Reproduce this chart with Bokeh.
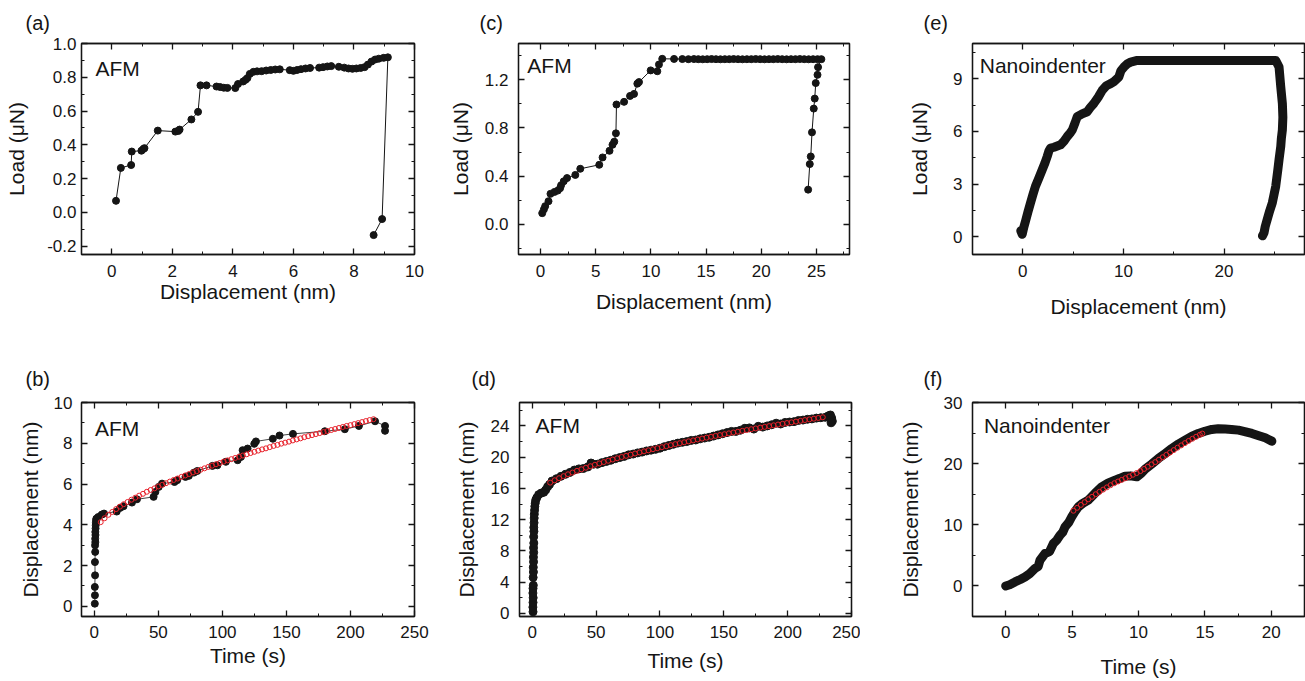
from bokeh.plotting import figure
from bokeh.models import (Range1d, SingleIntervalTicker, LinearAxis, Label, PrintfTickFormatter,
                          CustomJSTickFormatter)
from bokeh.layouts import row, column
from bokeh.embed import file_html
from bokeh.resources import INLINE

FONT = "Liberation Sans"
INK = "#151515"
RED = "#e8202a"

# ---------------- (a) AFM load vs displacement ----------------
a_disp = [0.14, 0.30, 0.64, 0.66, 0.98, 1.04, 1.08, 1.52, 2.10, 2.20, 2.24, 2.63, 2.85, 2.93, 3.13,
          3.46, 3.58, 3.70, 3.82, 4.08, 4.17, 4.34, 4.42, 4.48, 4.56, 4.68, 4.80, 4.95, 5.10, 5.25,
          5.40, 5.55, 5.88, 6.00, 6.12, 6.25, 6.40, 6.55, 6.85, 6.98, 7.12, 7.25, 7.50, 7.68, 7.82,
          7.95, 8.08, 8.22, 8.35, 8.46, 8.58, 8.70, 8.82, 8.98, 9.12, 8.93, 8.65]
a_load = [0.068, 0.263, 0.280, 0.360, 0.365, 0.375, 0.380, 0.484, 0.478, 0.482, 0.490, 0.550, 0.595,
          0.752, 0.752, 0.745, 0.742, 0.738, 0.737, 0.736, 0.760, 0.775, 0.785, 0.795, 0.820, 0.832,
          0.835, 0.836, 0.840, 0.843, 0.846, 0.847, 0.842, 0.838, 0.843, 0.848, 0.852, 0.855, 0.857,
          0.860, 0.864, 0.866, 0.862, 0.857, 0.852, 0.850, 0.852, 0.855, 0.860, 0.875, 0.893, 0.905,
          0.910, 0.915, 0.918, -0.040, -0.135]

# ---------------- (c) AFM load vs displacement ----------------
c_disp = [0.15, 0.30, 0.42, 0.72, 0.90, 1.26, 1.56, 1.77, 1.86, 2.10, 2.40, 3.15, 3.60, 5.32, 5.62,
          6.25, 6.52, 6.68, 6.83, 6.88, 7.57, 8.11, 8.47, 8.77, 8.92, 9.98, 10.58, 10.73, 11.03,
          12.10, 12.85, 13.40, 13.90, 14.30, 14.70, 15.10, 15.50, 15.90, 16.30, 16.70, 17.10, 17.50,
          17.90, 18.30, 18.70, 19.10, 19.50, 19.90, 20.30, 20.70, 21.10, 21.50, 21.90, 22.30, 22.70,
          23.10, 23.50, 23.90, 24.30, 24.70, 25.10, 25.45,
          25.15, 25.10, 24.94, 24.85, 24.76, 24.60, 24.49, 24.40, 24.25]
c_load = [0.093, 0.124, 0.151, 0.192, 0.253, 0.269, 0.280, 0.300, 0.324, 0.357, 0.384, 0.410, 0.461,
          0.494, 0.555, 0.610, 0.660, 0.686, 0.755, 0.994, 1.016, 1.065, 1.082, 1.167, 1.180, 1.277,
          1.270, 1.326, 1.373,
          1.372, 1.371, 1.370, 1.371, 1.370, 1.369, 1.370, 1.371, 1.370, 1.369, 1.370, 1.370, 1.371,
          1.370, 1.369, 1.370, 1.370, 1.371, 1.370, 1.369, 1.370, 1.370, 1.371, 1.370, 1.369, 1.370,
          1.370, 1.371, 1.370, 1.369, 1.370, 1.370, 1.370,
          1.304, 1.240, 1.172, 1.043, 0.960, 0.763, 0.563, 0.500, 0.288]

# ---------------- (e) Nanoindenter load vs displacement ----------------
e_disp = [-0.20, -0.06, 0.10, 0.27, 0.50, 0.77, 1.00, 1.26, 1.60, 1.93, 2.20, 2.43, 2.60, 2.76, 3.10,
          3.75, 4.10, 4.42, 4.70, 4.92, 5.20, 5.41, 5.90, 6.41, 6.70, 7.06, 7.50, 7.90, 8.30, 8.73,
          9.10, 9.55, 9.75, 10.05, 10.40, 10.72, 11.38, 13.0, 15.0, 17.0, 19.0, 21.0, 23.0, 24.5,
          25.14, 25.47, 25.64, 25.80, 25.85, 25.80, 25.70, 25.64, 25.47, 25.35, 25.14, 24.97, 24.80,
          24.55, 24.30, 24.10, 23.98, 23.82]
e_load = [0.35, 0.15, 0.55, 0.90, 1.40, 1.94, 2.40, 2.88, 3.35, 3.82, 4.20, 4.58, 4.90, 5.05, 5.10,
          5.24, 5.45, 5.71, 5.90, 6.08, 6.50, 6.84, 7.00, 7.12, 7.35, 7.59, 7.95, 8.34, 8.60, 8.72,
          8.85, 9.10, 9.45, 9.66, 9.85, 9.94, 10.04, 10.03, 10.04, 10.03, 10.04, 10.03, 10.04, 10.04,
          10.04, 9.66, 8.53, 7.59, 6.80, 6.08, 5.60, 5.14, 4.40, 3.82, 2.88, 2.40, 1.94, 1.50, 1.00,
          0.60, 0.24, 0.06]

# ---------------- (b) AFM displacement vs time ----------------
b_time = [0.4, 0.5, 0.4, 0.6, 0.5, 0.7, 0.6, 0.8, 0.7, 0.9, 0.8, 1.0, 1.1, 1.2, 1.4, 1.6, 3.0, 5.8,
          7.6, 17.5, 20.2, 22.8, 29.4, 33.3, 46.3, 47.7, 50.3, 52.9, 62.6, 64.7, 71.2, 73.8, 77.8,
          80.4, 92.2, 96.1, 102.7, 111.9, 114.5, 115.8, 119.7, 124.9, 126.2, 139.4, 144.6, 155.1,
          180.0, 195.6, 206.6, 219.2, 227.0, 227.0]
b_disp = [0.13, 0.54, 0.95, 1.52, 2.17, 2.67, 2.99, 3.15, 3.32, 3.50, 3.65, 3.82, 3.98, 4.10, 4.22,
          4.30, 4.38, 4.50, 4.55, 4.65, 4.83, 4.91, 5.09, 5.25, 5.37, 5.61, 5.86, 6.02, 6.10, 6.19,
          6.35, 6.40, 6.56, 6.64, 6.89, 6.92, 7.09, 7.17, 7.33, 7.66, 7.74, 7.97, 8.09, 8.22, 8.38,
          8.46, 8.59, 8.69, 8.85, 9.08, 8.85, 8.61]
b_fit_time = [5, 8, 11, 14, 17, 20, 23, 26, 29, 32, 35, 38, 41, 44, 47, 50, 53, 56, 59, 62, 65, 68,
              71, 74, 77, 80, 83, 86, 89, 92, 95, 98, 101, 104, 107, 110, 113, 116, 119, 122, 125,
              128, 131, 134, 137, 140, 143, 146, 149, 152, 155, 158, 161, 164, 167, 170, 173, 176,
              179, 182, 185, 188, 191, 194, 197, 200, 203, 206, 209, 212, 215, 218]
b_fit_disp = [4.13, 4.32, 4.49, 4.63, 4.77, 4.89, 5.01, 5.12, 5.23, 5.33, 5.43, 5.52, 5.62, 5.71,
              5.79, 5.88, 5.96, 6.04, 6.12, 6.20, 6.27, 6.35, 6.42, 6.49, 6.57, 6.63, 6.70, 6.77,
              6.84, 6.90, 6.97, 7.03, 7.10, 7.16, 7.22, 7.28, 7.34, 7.40, 7.46, 7.52, 7.58, 7.64,
              7.70, 7.75, 7.81, 7.87, 7.92, 7.98, 8.03, 8.08, 8.14, 8.19, 8.24, 8.30, 8.35, 8.40,
              8.45, 8.50, 8.55, 8.60, 8.65, 8.70, 8.75, 8.80, 8.85, 8.89, 8.94, 8.99, 9.04, 9.09,
              9.14, 9.18]

# ---------------- (d) AFM displacement vs time ----------------
d_time = [0.6, 0.5, 0.6, 0.7, 0.5, 0.6, 0.8, 0.7, 0.9, 0.8, 1.0, 0.9, 1.1, 1.0, 1.2, 1.1, 1.3, 1.2,
          1.4, 1.5, 1.6, 1.8, 2.0, 2.3, 2.7, 3.5, 5.0, 7.0, 9.0, 10.5, 12.0, 13.5,
          15.5, 19.0, 22.5, 26.0, 29.5, 33.0, 36.5, 40.0, 43.5, 46.0, 48.0, 51.0, 54.5, 58.0, 61.5,
          65.0, 68.5, 72.0, 75.5, 79.0, 82.5, 86.0, 89.5, 93.0, 96.5, 100.0, 103.5, 107.0, 110.5,
          114.0, 117.5, 121.0, 124.5, 128.0, 131.5, 135.0, 138.5, 142.0, 145.5, 149.0, 152.5, 156.0,
          159.5, 163.0, 166.5, 170.0, 173.5, 177.0, 180.5, 184.0, 187.5, 191.0, 194.5, 198.0, 201.5,
          205.0, 208.5, 212.0, 215.5, 219.0, 222.5, 226.0, 229.5, 232.0, 233.5, 234.5, 235.0, 234.0]
d_disp = [0.2, 0.8, 1.4, 2.0, 2.6, 3.2, 3.6, 4.6, 5.3, 5.9, 6.6, 7.2, 7.8, 8.4, 9.0, 9.8, 10.5, 11.0,
          11.6, 12.2, 12.7, 13.2, 13.7, 14.1, 14.5, 14.8, 15.2, 15.4, 15.5, 15.8, 16.2, 16.5,
          16.95, 17.25, 17.55, 17.80, 18.05, 18.35, 18.50, 18.55, 18.75, 19.25, 19.10, 19.10, 19.30,
          19.45, 19.60, 19.80, 19.95, 20.10, 20.30, 20.40, 20.55, 20.65, 20.80, 20.90, 21.00, 21.15,
          21.35, 21.50, 21.65, 21.80, 21.90, 22.00, 22.15, 22.20, 22.35, 22.45, 22.55, 22.70, 22.85,
          23.00, 23.15, 23.30, 23.30, 23.45, 23.70, 23.75, 23.60, 23.95, 23.85, 24.00, 24.15, 24.35,
          24.25, 24.45, 24.50, 24.55, 24.70, 24.75, 24.85, 24.90, 25.00, 25.05, 25.10, 25.30, 25.40,
          25.00, 24.60, 24.40]
d_fit_time = [14.0, 17.5, 21.0, 24.5, 28.0, 31.5, 35.0, 38.5, 42.0, 45.5, 49.0, 52.5, 56.0, 59.5,
              63.0, 66.5, 70.0, 73.5, 77.0, 80.5, 84.0, 87.5, 91.0, 94.5, 98.0, 101.5, 105.0, 108.5,
              112.0, 115.5, 119.0, 122.5, 126.0, 129.5, 133.0, 136.5, 140.0, 143.5, 147.0, 150.5,
              154.0, 157.5, 161.0, 164.5, 168.0, 171.5, 175.0, 178.5, 182.0, 185.5, 189.0, 192.5,
              196.0, 199.5, 203.0, 206.5, 210.0, 213.5, 217.0, 220.5, 224.0, 227.5]
d_fit_disp = [16.74, 17.04, 17.31, 17.57, 17.81, 18.03, 18.25, 18.45, 18.65, 18.84, 19.02, 19.20,
              19.37, 19.54, 19.70, 19.86, 20.02, 20.17, 20.32, 20.47, 20.61, 20.75, 20.88, 21.02,
              21.15, 21.28, 21.41, 21.54, 21.67, 21.79, 21.91, 22.03, 22.15, 22.27, 22.38, 22.50,
              22.61, 22.72, 22.83, 22.94, 23.05, 23.16, 23.26, 23.37, 23.47, 23.58, 23.68, 23.78,
              23.88, 23.98, 24.08, 24.18, 24.27, 24.37, 24.46, 24.56, 24.65, 24.75, 24.84, 24.93,
              25.02, 25.11]

# ---------------- (f) Nanoindenter displacement vs time ----------------
f_time = [0.0, 0.3, 0.7, 1.1, 1.45, 1.8, 2.2, 2.45, 2.58, 2.96, 3.3, 3.59, 3.85, 4.09, 4.3, 4.47,
          4.75, 4.97, 5.2, 5.47, 5.8, 6.22, 6.7, 7.23, 7.7, 8.24, 8.6, 8.99, 9.4, 9.87, 10.2, 10.5,
          11.0, 11.5, 12.0, 12.51, 13.0, 13.51, 14.0, 14.51, 15.0, 15.52, 16.0, 16.53, 17.0, 17.53,
          18.0, 18.54, 19.0, 19.54, 20.04]
f_disp = [0.0, 0.2, 0.65, 1.05, 1.47, 2.0, 2.85, 3.2, 4.2, 5.3, 5.6, 6.94, 7.5, 8.3, 8.8, 9.66,
          10.4, 11.29, 12.1, 12.93, 13.5, 14.03, 15.1, 16.2, 16.8, 17.3, 17.6, 17.95, 18.0, 17.84,
          18.4, 19.1, 19.95, 20.85, 21.65, 22.49, 23.2, 23.85, 24.45, 24.94, 25.3, 25.6, 25.7,
          25.65, 25.6, 25.48, 25.25, 24.94, 24.6, 24.22, 23.68]
f_fit_time = [5.10, 5.38, 5.66, 5.94, 6.22, 6.50, 6.78, 7.06, 7.34, 7.62, 7.90, 8.18, 8.46, 8.74,
              9.02, 9.30, 9.58, 9.86, 10.14, 10.42, 10.70, 10.98, 11.26, 11.54, 11.82, 12.10,
              12.38, 12.66, 12.94, 13.22, 13.50, 13.78, 14.06, 14.34, 14.62, 14.80]
f_fit_disp = [12.30, 12.78, 13.25, 13.70, 14.17, 14.58, 15.00, 15.39, 15.76, 16.12, 16.48, 16.80,
              17.08, 17.35, 17.62, 17.90, 18.18, 18.46, 18.78, 19.13, 19.50, 19.88, 20.25, 20.65,
              21.05, 21.44, 21.83, 22.22, 22.61, 22.99, 23.36, 23.72, 24.07, 24.40, 24.72, 24.92]


def style_axis(ax, ticker, fmt, label=None, lab_size="21px", lab_standoff=0, tick_standoff=0,
               tick_size="17px", show=True):
    ax.ticker = ticker
    ax.axis_line_color = INK
    ax.axis_line_width = 1.3
    ax.major_tick_line_color = INK
    ax.minor_tick_line_color = INK
    ax.major_tick_line_width = 1.3
    ax.minor_tick_line_width = 1.0
    ax.major_tick_in = 6
    ax.major_tick_out = 0
    ax.minor_tick_in = 3
    ax.minor_tick_out = 0
    if show:
        ax.formatter = PrintfTickFormatter(format=fmt)
        ax.axis_label = label
        ax.axis_label_text_font = FONT
        ax.axis_label_text_font_size = lab_size
        ax.axis_label_text_font_style = "normal"
        ax.axis_label_text_color = INK
        ax.axis_label_standoff = lab_standoff
        ax.major_label_text_font = FONT
        ax.major_label_text_font_size = tick_size
        ax.major_label_text_color = INK
        ax.major_label_standoff = tick_standoff
    else:
        ax.formatter = CustomJSTickFormatter(code="return ''")
        ax.major_label_standoff = 0


def panel(w, h, bl, br, bt, bb, xr, yr, xint, yint, xfmt, yfmt, xlabel, ylabel,
          xlab_so, ylab_so, xtick_so, ytick_so, letter, letter_off, letter_so, tag, tag_xy):
    p = figure(width=w, height=h, x_range=Range1d(*xr), y_range=Range1d(*yr),
               output_backend="svg", toolbar_location=None,
               min_border_left=bl, min_border_right=br, min_border_top=bt, min_border_bottom=bb)
    p.xgrid.visible = False
    p.ygrid.visible = False
    p.outline_line_color = INK
    p.outline_line_width = 1.3
    p.outline_line_alpha = 1.0
    p.background_fill_color = "white"
    p.border_fill_color = "white"
    p.title.text = letter
    p.title.text_font = FONT
    p.title.text_font_size = "20px"
    p.title.text_font_style = "normal"
    p.title.text_color = INK
    p.title.align = "left"
    p.title.offset = letter_off
    p.title.standoff = letter_so
    style_axis(p.xaxis[0], SingleIntervalTicker(interval=xint, num_minor_ticks=2), xfmt, xlabel,
               "21px", xlab_so, xtick_so, "17px")
    style_axis(p.yaxis[0], SingleIntervalTicker(interval=yint, num_minor_ticks=2), yfmt, ylabel,
               "21px", ylab_so, ytick_so, "17px")
    top = LinearAxis()
    style_axis(top, SingleIntervalTicker(interval=xint, num_minor_ticks=2), xfmt, show=False)
    p.add_layout(top, "above")
    right = LinearAxis()
    style_axis(right, SingleIntervalTicker(interval=yint, num_minor_ticks=2), yfmt, show=False)
    p.add_layout(right, "right")
    p.add_layout(Label(x=tag_xy[0], y=tag_xy[1], x_units="data", y_units="data",
                       text=tag, text_font=FONT, text_font_size="21px", text_color=INK,
                       text_baseline="middle", text_align="left"))
    return p


# Row 1 (page y 0..330)
pa = panel(440, 330, 81, 26, 41, 76, (-1, 10), (-0.25, 1.0), 2, 0.2, "%d", "%.1f",
           "Displacement (nm)", "Load (\u03bcN)", 0, 16, 10, 5, "(a)", -56, 19, "AFM", (-0.54, 0.85))
pa.line(a_disp, a_load, line_color=INK, line_width=1)
pa.scatter(a_disp, a_load, size=7, fill_color=INK, line_color=INK)

pc = panel(420, 330, 78, 11, 41, 76, (-2, 28), (-0.25, 1.5), 5, 0.4, "%d", "%.1f",
           "Displacement (nm)", "Load (\u03bcN)", 10, 10, 10, 10, "(c)", -39, 19, "AFM", (-1.2, 1.32))
pc.line(c_disp, c_load, line_color=INK, line_width=1)
pc.scatter(c_disp, c_load, size=7, fill_color=INK, line_color=INK)

pe = panel(445, 330, 112, 1, 41, 76, (-5, 28), (-1, 11), 10, 3, "%d", "%d",
           "Displacement (nm)", "Load (\u03bcN)", 15, 19, 10, 10, "(e)", -49, 19, "Nanoindenter", (-4.28, 9.77))
pe.line(e_disp, e_load, line_color=INK, line_width=9, line_join="round", line_cap="round")

# Row 2 (page y 330..681)
pb = panel(440, 351, 81, 26, 72, 65, (-10, 250), (-0.5, 10), 50, 2, "%d", "%d",
           "Time (s)", "Displacement (nm)", 3, 9, 9, 9, "(b)", -56, 25, "AFM", (0.5, 8.74))
pb.line(b_time, b_disp, line_color=INK, line_width=0.8)
pb.scatter(b_time, b_disp, size=7, fill_color=INK, line_color=INK)
pb.scatter(b_fit_time, b_fit_disp, size=5, fill_color=None, line_color=RED, line_width=1)

pd_ = panel(420, 351, 79, 9, 72, 65, (-10, 250), (-0.4, 27), 50, 4, "%d", "%d",
            "Time (s)", "Displacement (nm)", 8, 10, 9, 10, "(d)", -48, 25, "AFM", (2.6, 24.1))
pd_.line(d_time, d_disp, line_color=INK, line_width=0.8)
pd_.scatter(d_time, d_disp, size=8, fill_color=INK, line_color=INK)
pd_.scatter(d_fit_time, d_fit_disp, size=5, fill_color=None, line_color=RED, line_width=1)

pf = panel(445, 351, 112, 1, 72, 65, (-2.5, 22.5), (-5, 30), 5, 10, "%d", "%d",
           "Time (s)", "Displacement (nm)", 14, 19, 9, 10, "(f)", -49, 25, "Nanoindenter", (-1.64, 26.3))
pf.line(f_time, f_disp, line_color=INK, line_width=9, line_join="round", line_cap="round")
pf.scatter(f_fit_time, f_fit_disp, size=5, fill_color=None, line_color=RED, line_width=1)

layout = column(row(pa, pc, pe), row(pb, pd_, pf))
open("out.html", "w").write(file_html(layout, INLINE))
